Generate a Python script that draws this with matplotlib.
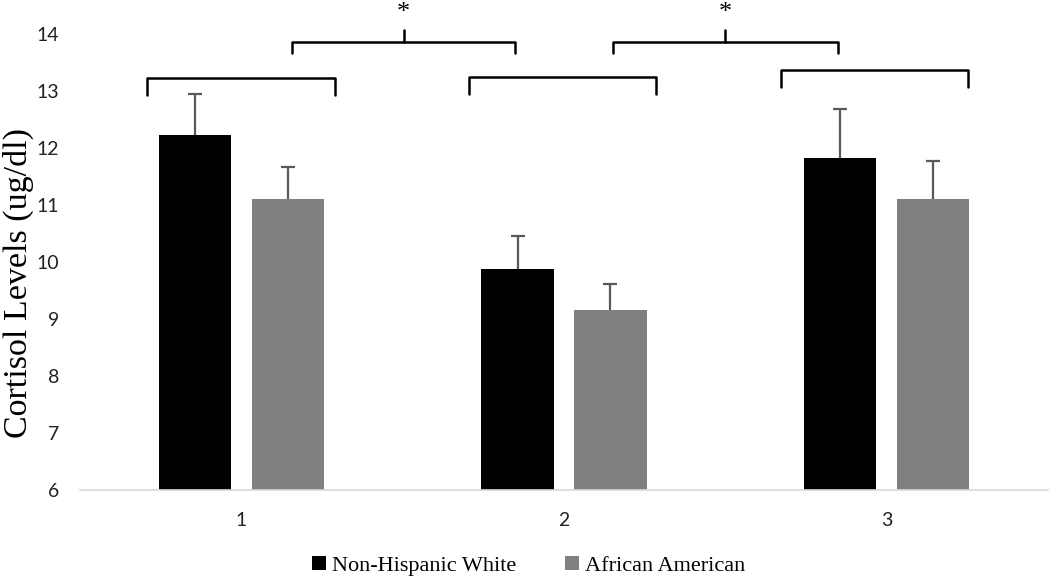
import matplotlib
matplotlib.use("Agg")
import matplotlib.pyplot as plt
import numpy as np

categories = ["1", "2", "3"]
series_names = ["Non-Hispanic White", "African American"]
nhw_values = [12.22, 9.88, 11.82]
nhw_err = [0.72, 0.57, 0.87]
aa_values = [11.10, 9.15, 11.10]
aa_err = [0.57, 0.47, 0.68]
yticks = [6, 7, 8, 9, 10, 11, 12, 13, 14]

fig = plt.figure(figsize=(10.5, 5.8), dpi=100)
ax = fig.add_axes([80/1050, 1-490/580, (1048-80)/1050, (490-34)/580])

x = np.arange(1, len(categories)+1)
w = 0.224
off = 0.144
ekw = dict(ecolor="#595959", elinewidth=1.6, capsize=5, capthick=1.6)
ax.bar(x-off, nhw_values, w, color="black", label=series_names[0], zorder=2)
ax.bar(x+off, aa_values, w, color="#808080", label=series_names[1], zorder=2)
for xs, vals, errs in [(x-off, nhw_values, nhw_err), (x+off, aa_values, aa_err)]:
    eb = ax.errorbar(xs, vals, yerr=[np.zeros(len(vals)), errs], fmt="none", zorder=3, **ekw)
    eb[1][0].set_visible(False)

ax.set_ylim(6, 14)
ax.set_xlim(0.5, 3.5)
ax.set_yticks(yticks)
ax.set_xticks(x)
ax.set_xticklabels(categories)
for s in ["top", "right", "left"]:
    ax.spines[s].set_visible(False)
ax.spines["bottom"].set_color("#d9d9d9")
ax.spines["bottom"].set_linewidth(1.2)
ax.tick_params(axis="both", length=0, labelsize=14, colors="#222222")
ax.tick_params(axis="y", pad=15)
ax.tick_params(axis="x", pad=16)
for lab in ax.get_xticklabels() + ax.get_yticklabels():
    lab.set_family(["Lato", "DejaVu Sans"])

ax.set_ylabel("Cortisol Levels (ug/dl)", family="Liberation Serif", fontsize=24.5)
ax.yaxis.set_label_coords(-0.0475, 0.455)

# brackets
def bracket(x0, x1, ytop, ybot, peak=None):
    kw = dict(color="black", lw=1.8, clip_on=False, solid_capstyle="round", solid_joinstyle="round", zorder=4)
    ax.plot([x0, x0, x1, x1], [ybot, ytop, ytop, ybot], **kw)
    if peak is not None:
        xm = (x0+x1)/2
        ax.plot([xm, xm], [ytop, peak], **kw)

bracket(1-0.292, 1+0.291, 13.23, 12.93)
bracket(2-0.295, 2+0.285, 13.25, 12.95)
bracket(3-0.328, 3+0.252, 13.37, 13.07)
bracket(1.158, 1.849, 13.86, 13.67, 14.07)
bracket(2.151, 2.848, 13.86, 13.67, 14.07)
ax.text(1.503, 14.36, "*", ha="center", va="center", fontsize=19, family="Liberation Serif", clip_on=False)
ax.text(2.5, 14.36, "*", ha="center", va="center", fontsize=19, family="Liberation Serif", clip_on=False)

leg = fig.legend(loc="center", bbox_to_anchor=(529/1050, 1-566/580), ncol=2, frameon=False,
                 prop={"family": "Liberation Serif", "size": 16}, handlelength=0.6, handleheight=0.6,
                 handletextpad=0.3, columnspacing=2.2)

fig.savefig("out.png", dpi=100)
